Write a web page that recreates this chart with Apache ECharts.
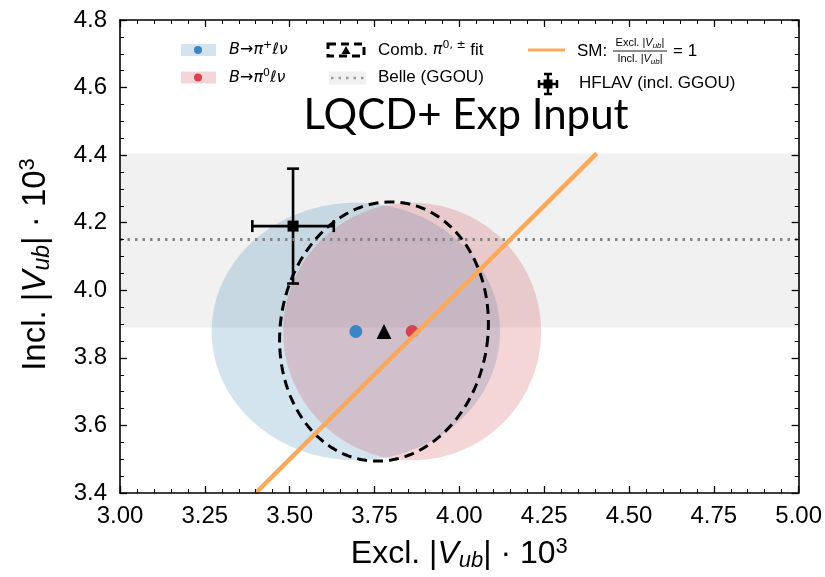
<!DOCTYPE html>
<html>
<head>
<meta charset="utf-8">
<script src="https://cdn.jsdelivr.net/npm/echarts@6/dist/echarts.min.js"></script>
<style>
  html, body { margin: 0; padding: 0; background: #fff; }
  #chart { width: 825px; height: 577px; }
</style>
</head>
<body>
<div id="chart"></div>
<script>
// Axis ranges and ticks
const xRange = [3.0, 5.0];
const yRange = [3.4, 4.8];
const xTickStep = 0.25;
const yTickStep = 0.2;

// Central values of the two channels and their combination (Excl., Incl.)
const piPlus = [3.695, 3.878];
const piZero = [3.861, 3.878];
const combined = [3.778, 3.878];

// Confidence regions: [centre x, centre y, semi-axis a, semi-axis b, rotation deg]
const piPlusRegion = [3.695, 3.878, 0.425, 0.381, 0];
const piZeroRegion = [3.861, 3.878, 0.380, 0.381, 0];
const combinedRegion = [3.778, 3.878, 0.306, 0.385, -8];

// Belle inclusive (GGOU) value and band
const belleCentral = 4.15;
const belleBand = [3.89, 4.405];

// HFLAV point: x, y, x error, y error
const hflav = [3.51, 4.19, 0.12, 0.17];

// SM line Excl./Incl. = 1
const smLineX = [3.4, 4.405];
const smLineY = [3.4, 4.405];

const FONT = '"Liberation Sans", Arial, sans-serif';
const MATH = '"DejaVu Sans", sans-serif';

const chart = echarts.init(document.getElementById('chart'), null, { renderer: 'canvas' });

function ellipseItem(style) {
  return function (params, api) {
    const cx = api.value(0), cy = api.value(1);
    const a = api.value(2), b = api.value(3);
    const th = api.value(4) * Math.PI / 180;
    const pts = [];
    const n = 180;
    for (let i = 0; i < n; i++) {
      const t = 2 * Math.PI * i / n;
      const ex = a * Math.cos(t), ey = b * Math.sin(t);
      const dx = ex * Math.cos(th) - ey * Math.sin(th);
      const dy = ex * Math.sin(th) + ey * Math.cos(th);
      pts.push(api.coord([cx + dx, cy + dy]));
    }
    return { type: 'polygon', shape: { points: pts }, style: style };
  };
}

function errorBarItem(params, api) {
  const x = api.value(0), y = api.value(1), ex = api.value(2), ey = api.value(3);
  const c = api.coord([x, y]);
  const l = api.coord([x - ex, y]);
  const r = api.coord([x + ex, y]);
  const lo = api.coord([x, y - ey]);
  const hi = api.coord([x, y + ey]);
  const cap = 6;
  const st = { stroke: '#000', lineWidth: 2.6 };
  return {
    type: 'group',
    children: [
      { type: 'line', shape: { x1: l[0], y1: l[1], x2: r[0], y2: r[1] }, style: st },
      { type: 'line', shape: { x1: lo[0], y1: lo[1], x2: hi[0], y2: hi[1] }, style: st },
      { type: 'line', shape: { x1: l[0], y1: l[1] - cap, x2: l[0], y2: l[1] + cap }, style: st },
      { type: 'line', shape: { x1: r[0], y1: r[1] - cap, x2: r[0], y2: r[1] + cap }, style: st },
      { type: 'line', shape: { x1: lo[0] - cap, y1: lo[1], x2: lo[0] + cap, y2: lo[1] }, style: st },
      { type: 'line', shape: { x1: hi[0] - cap, y1: hi[1], x2: hi[0] + cap, y2: hi[1] }, style: st },
      { type: 'rect', shape: { x: c[0] - 5.5, y: c[1] - 5.5, width: 11, height: 11 }, style: { fill: '#000' } }
    ]
  };
}

function nameRich(size) {
  return {
    a: { fontSize: size, fontFamily: FONT, color: '#000', lineHeight: size + 4 },
    v: { fontSize: size, fontFamily: FONT, color: '#000', fontStyle: 'italic', lineHeight: size + 4 },
    s: { fontSize: Math.round(size * 0.7), fontFamily: FONT, color: '#000', fontStyle: 'italic', lineHeight: 14, verticalAlign: 'bottom' },
    p: { fontSize: Math.round(size * 0.68), fontFamily: FONT, color: '#000', lineHeight: 14, verticalAlign: 'top' }
  };
}

function axisBase(extra) {
  return Object.assign({
    type: 'value',
    z: 10,
    splitLine: { show: false },
    axisLine: { show: true, onZero: false, lineStyle: { color: '#000', width: 1.6 } },
    axisTick: { show: true, inside: true, length: 7, lineStyle: { color: '#000', width: 1.3 } },
    minorTick: { show: true, length: 4, lineStyle: { color: '#000', width: 1 } }
  }, extra);
}

const legendMath = {
  i: { font: 'italic 16px ' + MATH, fill: '#000', lineHeight: 20 },
  a: { font: '16px ' + MATH, fill: '#000', lineHeight: 20 },
  p: { font: '11px ' + MATH, fill: '#000', lineHeight: 10, verticalAlign: 'top' }
};

const option = {
  backgroundColor: '#fff',
  animation: false,
  grid: { left: 120, right: 26, top: 20, bottom: 82 },
  xAxis: [
    axisBase({
      min: xRange[0], max: xRange[1], interval: xTickStep, position: 'bottom',
      minorTick: { show: true, splitNumber: 5, length: 4, lineStyle: { color: '#000', width: 1 } },
      axisLabel: { formatter: v => v.toFixed(2), fontSize: 24, fontFamily: FONT, color: '#000', margin: 11 },
      name: '{a|Excl. |}{v|V}{s|ub}{a|| · 10}{p|3}',
      nameLocation: 'middle', nameGap: 43,
      nameTextStyle: { rich: nameRich(32) }
    }),
    axisBase({
      min: xRange[0], max: xRange[1], interval: xTickStep, position: 'top',
      minorTick: { show: true, splitNumber: 5, length: 4, lineStyle: { color: '#000', width: 1 } },
      axisLabel: { show: false }
    })
  ],
  yAxis: [
    axisBase({
      min: yRange[0], max: yRange[1], interval: yTickStep, position: 'left',
      minorTick: { show: true, splitNumber: 4, length: 4, lineStyle: { color: '#000', width: 1 } },
      axisLabel: { formatter: v => v.toFixed(1), fontSize: 24, fontFamily: FONT, color: '#000', margin: 13 },
      name: '{a|Incl. |}{v|V}{s|ub}{a|| · 10}{p|3}',
      nameLocation: 'middle', nameGap: 66,
      nameTextStyle: { rich: nameRich(33), padding: [0, 0, 0, -16] }
    }),
    axisBase({
      min: yRange[0], max: yRange[1], interval: yTickStep, position: 'right',
      minorTick: { show: true, splitNumber: 4, length: 4, lineStyle: { color: '#000', width: 1 } },
      axisLabel: { show: false }
    })
  ],
  series: [
    {
      // Belle (GGOU) band and central value
      type: 'line', data: [], z: 1,
      markArea: {
        silent: true,
        itemStyle: { color: '#f1f1f1' },
        data: [[{ yAxis: belleBand[0] }, { yAxis: belleBand[1] }]]
      },
      markLine: {
        silent: true, symbol: ['none', 'none'], label: { show: false },
        lineStyle: { color: '#858585', type: [2.5, 5], width: 3 },
        data: [{ yAxis: belleCentral }]
      }
    },
    {
      type: 'custom', z: 2, data: [piPlusRegion],
      renderItem: ellipseItem({ fill: 'rgba(40,120,175,0.2)' })
    },
    {
      type: 'custom', z: 3, data: [piZeroRegion],
      renderItem: ellipseItem({ fill: 'rgba(200,50,65,0.2)' })
    },
    {
      type: 'custom', z: 4, data: [hflav],
      renderItem: errorBarItem
    },
    {
      type: 'custom', z: 5, data: [combinedRegion],
      renderItem: ellipseItem({ fill: 'none', stroke: '#000', lineWidth: 3, lineDash: [10, 6] })
    },
    {
      type: 'scatter', z: 6, symbol: 'circle', symbolSize: 13,
      itemStyle: { color: '#3a85c3', opacity: 1 }, data: [piPlus]
    },
    {
      type: 'scatter', z: 6, symbol: 'circle', symbolSize: 13,
      itemStyle: { color: '#d9434f', opacity: 1 }, data: [piZero]
    },
    {
      type: 'scatter', z: 6, symbol: 'triangle', symbolSize: 15,
      itemStyle: { color: '#000', opacity: 1 }, data: [combined]
    },
    {
      type: 'line', z: 7, symbol: 'none',
      lineStyle: { color: '#f9a95c', width: 4.5 },
      data: smLineX.map((x, i) => [x, smLineY[i]])
    }
  ],
  graphic: [
    // legend, column 1
    { type: 'rect', shape: { x: 181, y: 44, width: 35, height: 12 }, style: { fill: 'rgba(40,120,175,0.2)' } },
    { type: 'circle', shape: { cx: 198, cy: 50, r: 4 }, style: { fill: '#3a85c3' } },
    { type: 'text', x: 229, y: 50, style: { text: '{i|B}{a|→}{i|π}{p|+}{i|ℓν}', verticalAlign: 'middle', rich: legendMath } },
    { type: 'rect', shape: { x: 181, y: 71.5, width: 35, height: 12 }, style: { fill: 'rgba(200,50,65,0.2)' } },
    { type: 'circle', shape: { cx: 198, cy: 77.5, r: 4 }, style: { fill: '#d9434f' } },
    { type: 'text', x: 229, y: 77.5, style: { text: '{i|B}{a|→}{i|π}{p|0}{i|ℓν}', verticalAlign: 'middle', rich: legendMath } },
    // legend, column 2
    { type: 'rect', shape: { x: 328, y: 44, width: 36, height: 12 }, style: { fill: 'none', stroke: '#000', lineWidth: 3, lineDash: [8, 5] } },
    { type: 'polygon', shape: { points: [[346, 46], [341.5, 54], [350.5, 54]] }, style: { fill: '#000' } },
    {
      type: 'text', x: 378, y: 50,
      style: {
        text: '{a|Comb. }{m|π}{p|0, ±}{a| fit}', verticalAlign: 'middle',
        rich: {
          a: { font: '17px ' + FONT, fill: '#000', lineHeight: 20 },
          m: { font: 'italic 16px ' + MATH, fill: '#000', lineHeight: 20 },
          p: { font: '11px ' + MATH, fill: '#000', lineHeight: 10, verticalAlign: 'top' }
        }
      }
    },
    { type: 'rect', shape: { x: 329, y: 71.5, width: 37, height: 13 }, style: { fill: '#f1f1f1' } },
    { type: 'line', shape: { x1: 331, y1: 78, x2: 366, y2: 78 }, style: { stroke: '#9a9a9a', lineWidth: 2.5, lineDash: [2.5, 5] } },
    { type: 'text', x: 378, y: 77.5, style: { text: 'Belle (GGOU)', font: '17px ' + FONT, fill: '#000', verticalAlign: 'middle' } },
    // legend, column 3
    { type: 'line', shape: { x1: 528, y1: 50, x2: 565, y2: 50 }, style: { stroke: '#f9a95c', lineWidth: 3 } },
    { type: 'text', x: 577, y: 51, style: { text: 'SM:', font: '17px ' + FONT, fill: '#000', verticalAlign: 'middle' } },
    {
      type: 'text', x: 640, y: 43,
      style: {
        text: '{a|Excl. |}{v|V}{s|ub}{a||}', align: 'center', verticalAlign: 'middle',
        rich: {
          a: { font: '11px ' + FONT, fill: '#000', lineHeight: 13 },
          v: { font: 'italic 11px ' + FONT, fill: '#000', lineHeight: 13 },
          s: { font: 'italic 8px ' + FONT, fill: '#000', lineHeight: 6, verticalAlign: 'bottom' }
        }
      }
    },
    { type: 'line', shape: { x1: 613, y1: 51, x2: 667, y2: 51 }, style: { stroke: '#000', lineWidth: 0.9 } },
    {
      type: 'text', x: 640, y: 59,
      style: {
        text: '{a|Incl. |}{v|V}{s|ub}{a||}', align: 'center', verticalAlign: 'middle',
        rich: {
          a: { font: '11px ' + FONT, fill: '#000', lineHeight: 13 },
          v: { font: 'italic 11px ' + FONT, fill: '#000', lineHeight: 13 },
          s: { font: 'italic 8px ' + FONT, fill: '#000', lineHeight: 6, verticalAlign: 'bottom' }
        }
      }
    },
    { type: 'text', x: 673, y: 51, style: { text: '= 1', font: '17px ' + FONT, fill: '#000', verticalAlign: 'middle' } },
    // HFLAV handle
    { type: 'line', shape: { x1: 548, y1: 74, x2: 548, y2: 94 }, style: { stroke: '#000', lineWidth: 2.5 } },
    { type: 'line', shape: { x1: 539, y1: 84, x2: 557, y2: 84 }, style: { stroke: '#000', lineWidth: 2.5 } },
    { type: 'line', shape: { x1: 544, y1: 74, x2: 552, y2: 74 }, style: { stroke: '#000', lineWidth: 2.5 } },
    { type: 'line', shape: { x1: 544, y1: 94, x2: 552, y2: 94 }, style: { stroke: '#000', lineWidth: 2.5 } },
    { type: 'line', shape: { x1: 539, y1: 80, x2: 539, y2: 88 }, style: { stroke: '#000', lineWidth: 2.5 } },
    { type: 'line', shape: { x1: 557, y1: 80, x2: 557, y2: 88 }, style: { stroke: '#000', lineWidth: 2.5 } },
    { type: 'rect', shape: { x: 543.5, y: 79.5, width: 9, height: 9 }, style: { fill: '#000' } },
    { type: 'text', x: 579, y: 83, style: { text: 'HFLAV (incl. GGOU)', font: '17px ' + FONT, fill: '#000', verticalAlign: 'middle' } },
    // panel title
    { type: 'text', x: 466, y: 115, z: 20, style: { text: 'LQCD+ Exp Input', font: '42px Lato, "Open Sans", sans-serif', fill: '#000', align: 'center', verticalAlign: 'middle' } }
  ]
};

chart.setOption(option);
</script>
</body>
</html>
